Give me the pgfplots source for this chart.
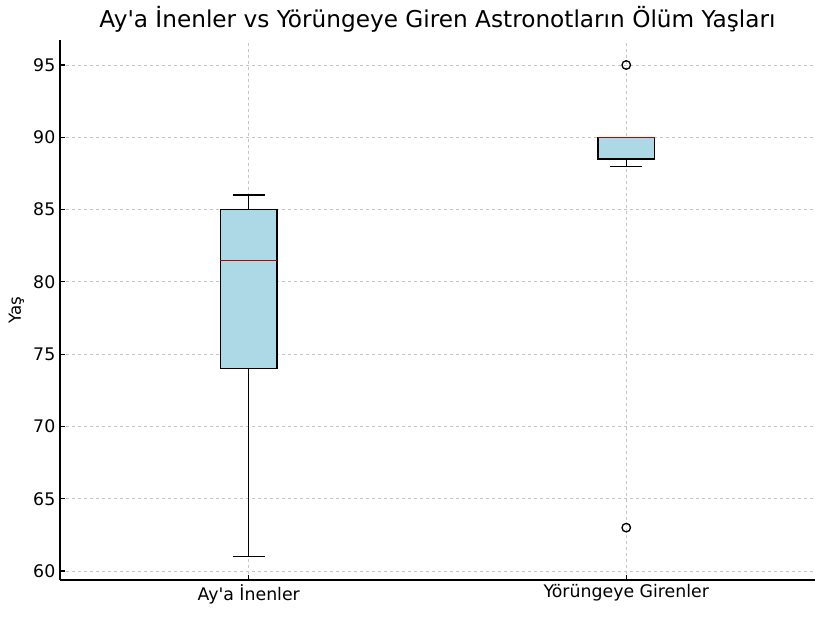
\documentclass[border=0pt]{standalone}
\usepackage{pgfplots}
\pgfplotsset{compat=1.18}
\usepackage{fontspec}
\setmainfont{DejaVu Sans}
\definecolor{lblue}{HTML}{ADD8E6}
\definecolor{medred}{HTML}{C00000}
\begin{document}
\begin{tikzpicture}
\begin{axis}[
  name=ax,
  scale only axis,
  width=566.25pt, height=405pt,
  xmin=0.5, xmax=2.5,
  ymin=59.377, ymax=96.73,
  axis x line*=bottom, axis y line*=left,
  axis line style={-, line width=1pt},
  xtick={1,2},
  xticklabels={Ay\textquotesingle a İnenler, Yörüngeye Girenler},
  ytick={60,65,70,75,80,85,90,95},
  tick align=inside,
  major tick length=3.5pt,
  tick style={black, line width=0.8pt},
  grid=major,
  grid style={dash pattern=on 2.5pt off 2pt, gray!45, line width=0.7pt},
  ylabel={Yaş},
  title={Ay\textquotesingle a İnenler vs Yörüngeye Giren Astronotların Ölüm Yaşları},
  title style={font=\fontsize{17.4}{20}\selectfont, at={(0.5,1)}, anchor=base, yshift=3pt},
  tick label style={font=\fontsize{13}{15}\selectfont},
  label style={font=\fontsize{12.5}{14}\selectfont},
  /pgf/number format/assume math mode=true,
]
% boxes (Q1..Q3)
\addplot[draw=black, fill=lblue, line width=1pt] coordinates
  {(0.925,74) (1.075,74) (1.075,85) (0.925,85)} -- cycle;
\addplot[draw=black, fill=lblue, line width=1pt] coordinates
  {(1.925,88.5) (2.075,88.5) (2.075,90) (1.925,90)} -- cycle;
% whiskers
\addplot[black, line width=1pt] coordinates {(1,61) (1,74)};
\addplot[black, line width=1pt] coordinates {(1,85) (1,86)};
\addplot[black, line width=1pt] coordinates {(0.9575,61) (1.0425,61)};
\addplot[black, line width=1pt] coordinates {(0.9575,86) (1.0425,86)};
\addplot[black, line width=1pt] coordinates {(2,88) (2,88.5)};
\addplot[black, line width=1pt] coordinates {(1.9575,88) (2.0425,88)};
% medians
\addplot[medred, line width=1pt] coordinates {(0.925,81.5) (1.075,81.5)};
\addplot[medred, line width=1pt] coordinates {(1.925,90) (2.075,90)};
% outliers
\addplot[only marks, mark=o, mark size=3.2pt, black, mark options={line width=1pt}]
  coordinates {(2,95) (2,63)};
\end{axis}
\pgfresetboundingbox
\path ([xshift=-45pt,yshift=-27pt]ax.south west) rectangle ([xshift=7.5pt,yshift=30pt]ax.north east);
\end{tikzpicture}
\end{document}
